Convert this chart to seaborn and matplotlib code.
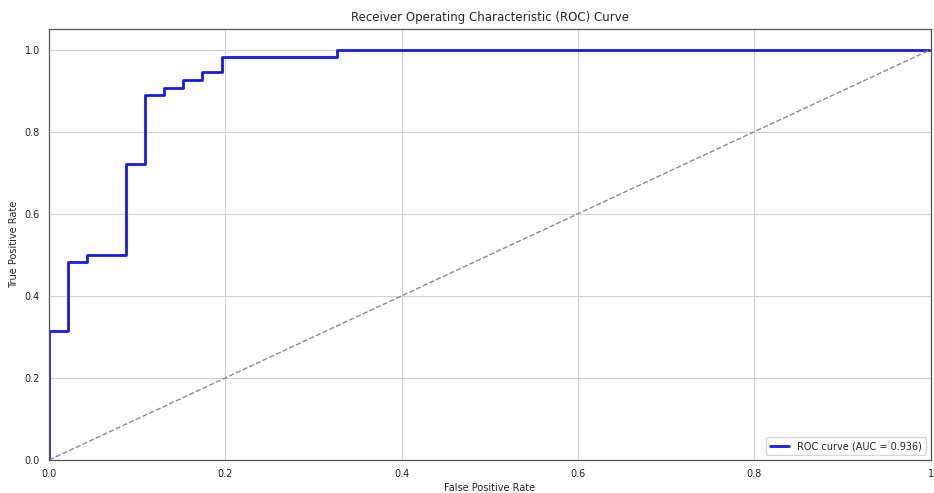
import matplotlib
matplotlib.use("Agg")
import matplotlib.pyplot as plt
import seaborn as sns
import pandas as pd

# ROC curve points (false positive rate, true positive rate)
fpr = [0.0, 0.0, 0.0217, 0.0217, 0.0435, 0.0435, 0.0870, 0.0870, 0.1087, 0.1087,
       0.1304, 0.1304, 0.1522, 0.1522, 0.1739, 0.1739, 0.1957, 0.1957, 0.3261, 0.3261, 1.0]
tpr = [0.0, 0.3148, 0.3148, 0.4815, 0.4815, 0.5, 0.5, 0.7222, 0.7222, 0.8889,
       0.8889, 0.9074, 0.9074, 0.9259, 0.9259, 0.9444, 0.9444, 0.9815, 0.9815, 1.0, 1.0]
auc_value = 0.936
chance = [0.0, 1.0]
tick_values = [0.0, 0.2, 0.4, 0.6, 0.8, 1.0]
x_tick_labels = ["0.0", "0.2", "0.4", "0.6", "0.8", "1"]
y_tick_labels = ["0.0", "0.2", "0.4", "0.6", "0.8", "1.0"]

sns.set_style("whitegrid")
plt.rcParams["font.family"] = ["DejaVu Sans"]

fig = plt.figure(figsize=(9.34, 4.93), dpi=100)
ax = fig.add_axes([0.0525, 0.067, 0.944, 0.874])

roc_df = pd.DataFrame({"fpr": fpr, "tpr": tpr})
sns.lineplot(data=roc_df, x="fpr", y="tpr", ax=ax, color="#1a1ae6", linewidth=2,
             sort=False, estimator=None, label=f"ROC curve (AUC = {auc_value:.3f})")
ax.plot(chance, chance, color="#8c8c8c", linestyle="--", linewidth=1)

ax.set_xlim(0.0, 1.0)
ax.set_ylim(0.0, 1.05)
ax.set_xticks(tick_values)
ax.set_xticklabels(x_tick_labels)
ax.set_yticks(tick_values)
ax.set_yticklabels(y_tick_labels)
ax.tick_params(labelsize=7, length=3, color="#333333", labelcolor="#222222")
ax.grid(True, color="#d4d4d4", linewidth=0.8)
for s in ax.spines.values():
    s.set_color("#555555")
    s.set_linewidth(0.9)

ax.set_xlabel("False Positive Rate", fontsize=7, labelpad=3)
ax.set_ylabel("True Positive Rate", fontsize=7, labelpad=4)
ax.set_title("Receiver Operating Characteristic (ROC) Curve", fontsize=8.5, pad=6)
ax.legend(loc="lower right", fontsize=7, frameon=True)

fig.savefig("out.png", dpi=100)
